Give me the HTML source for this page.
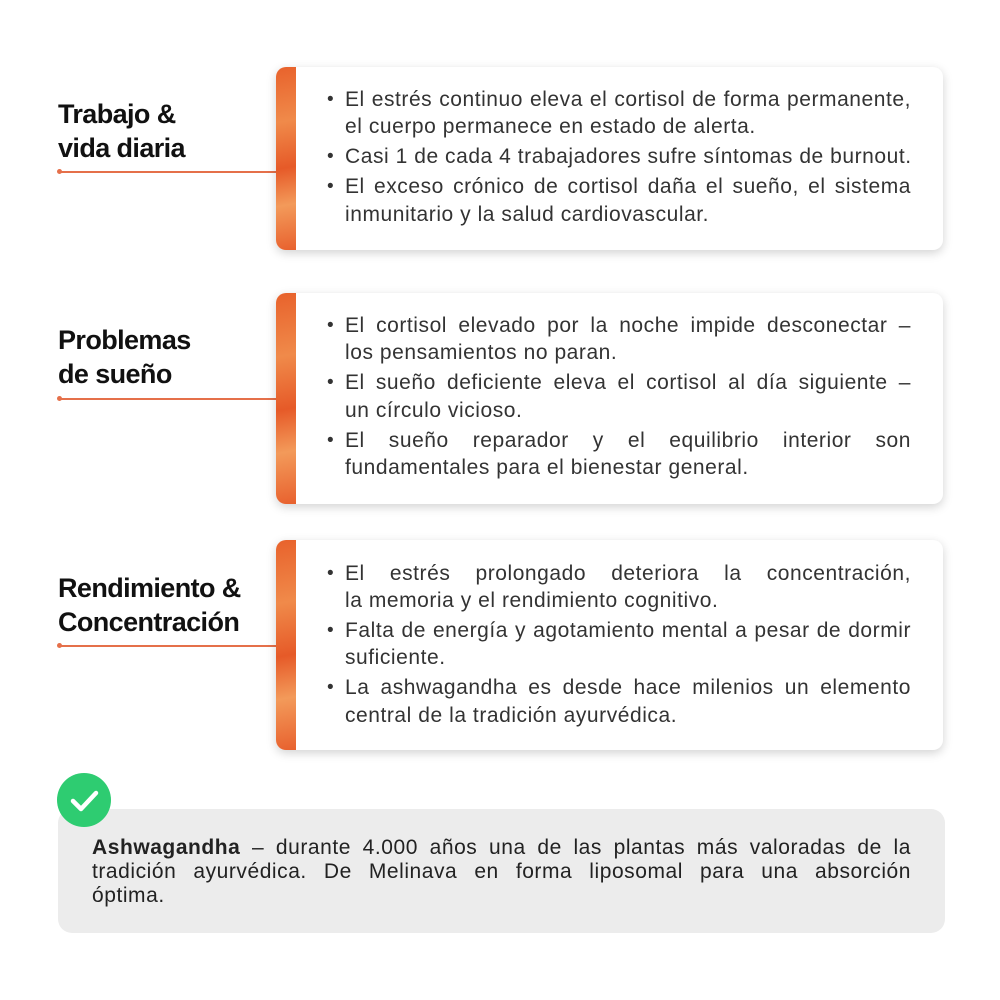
<!DOCTYPE html>
<html><head><meta charset="utf-8"><style>
body{margin:0;width:1000px;height:1000px;background:#fff;position:relative;font-family:"Liberation Sans",sans-serif;overflow:hidden}
.h{position:absolute;left:58px;font-weight:bold;font-size:27px;color:#111;line-height:34px;letter-spacing:-0.6px}
.ln{position:absolute;left:59px;width:217px;height:1.5px;background:#e5704a}
.dot{position:absolute;left:57px;width:5px;height:5px;border-radius:50%;background:#e5704a}
.card{position:absolute;left:276px;width:667px;background:#fff;border-radius:10px;box-shadow:0 3px 10px rgba(0,0,0,0.18);overflow:hidden}
.strip{position:absolute;left:0;top:0;bottom:0;width:20px;background:linear-gradient(170deg,#e8622c,#f08a4a 30%,#e65a28 55%,#f39a5a 75%,#e8612e)}
.l{position:absolute;left:345px;width:566px;font-size:21px;letter-spacing:0.55px;color:#333;line-height:28px;white-space:nowrap}
.j{text-align:justify;text-align-last:justify;white-space:normal}
.b{position:absolute;left:327px;font-size:19px;color:#333;line-height:28px}
</style></head><body>
<div class="h" style="top:97px">Trabajo &amp;<br>vida diaria</div>
<div class="ln" style="top:171px"></div><div class="dot" style="top:169px"></div>
<div class="h" style="top:323px">Problemas<br>de sueño</div>
<div class="ln" style="top:398px"></div><div class="dot" style="top:396px"></div>
<div class="h" style="top:571px">Rendimiento &amp;<br>Concentración</div>
<div class="ln" style="top:645px"></div><div class="dot" style="top:643px"></div>

<div class="card" style="top:67px;height:183px"><div class="strip"></div></div>
<div class="card" style="top:293px;height:211px"><div class="strip"></div></div>
<div class="card" style="top:540px;height:210px"><div class="strip"></div></div>

<div class="b" style="top:86px">•</div>
<div class="l j" style="top:86px">El estrés continuo eleva el cortisol de forma permanente,</div>
<div class="l" style="top:113px">el cuerpo permanece en estado de alerta.</div>
<div class="b" style="top:143px">•</div>
<div class="l" style="top:143px">Casi 1 de cada 4 trabajadores sufre síntomas de burnout.</div>
<div class="b" style="top:173px">•</div>
<div class="l j" style="top:173px">El exceso crónico de cortisol daña el sueño, el sistema</div>
<div class="l" style="top:201px">inmunitario y la salud cardiovascular.</div>

<div class="b" style="top:312px">•</div>
<div class="l j" style="top:312px">El cortisol elevado por la noche impide desconectar –</div>
<div class="l" style="top:339px">los pensamientos no paran.</div>
<div class="b" style="top:369px">•</div>
<div class="l j" style="top:369px">El sueño deficiente eleva el cortisol al día siguiente –</div>
<div class="l" style="top:397px">un círculo vicioso.</div>
<div class="b" style="top:427px">•</div>
<div class="l j" style="top:427px">El sueño reparador y el equilibrio interior son</div>
<div class="l" style="top:454px">fundamentales para el bienestar general.</div>

<div class="b" style="top:560px">•</div>
<div class="l j" style="top:560px">El estrés prolongado deteriora la concentración,</div>
<div class="l" style="top:587px">la memoria y el rendimiento cognitivo.</div>
<div class="b" style="top:617px">•</div>
<div class="l j" style="top:617px">Falta de energía y agotamiento mental a pesar de dormir</div>
<div class="l" style="top:644px">suficiente.</div>
<div class="b" style="top:674px">•</div>
<div class="l j" style="top:674px">La ashwagandha es desde hace milenios un elemento</div>
<div class="l" style="top:702px">central de la tradición ayurvédica.</div>

<div style="position:absolute;left:58px;top:809px;width:887px;height:124px;background:#ececec;border-radius:14px"></div>
<div style="position:absolute;left:57px;top:773px;width:54px;height:54px;border-radius:50%;background:#2ecc71"></div>
<svg style="position:absolute;left:57px;top:773px" width="54" height="54"><polyline points="16,28 24,36 39,20" fill="none" stroke="#fff" stroke-width="4.5" stroke-linecap="round" stroke-linejoin="round"/></svg>
<div class="l j" style="left:92px;width:819px;top:836px;line-height:24px;color:#222"><b>Ashwagandha</b> – durante 4.000 años una de las plantas más valoradas de la</div>
<div class="l j" style="left:92px;width:819px;top:860px;line-height:24px;color:#222">tradición ayurvédica. De Melinava en forma liposomal para una absorción</div>
<div class="l" style="left:92px;top:884px;line-height:24px;color:#222">óptima.</div>
</body></html>
